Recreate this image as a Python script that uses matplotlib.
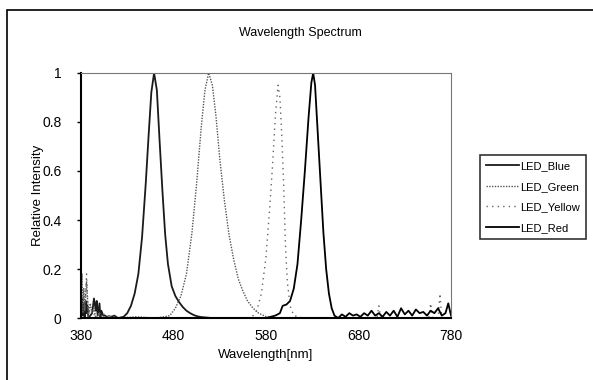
import matplotlib.pyplot as plt
from matplotlib.patches import Rectangle

plt.rcParams['font.family'] = ['Liberation Sans', 'DejaVu Sans']

# --- data (wavelength in nm, relative intensity) ---
blue_wl = [380, 381, 382, 383, 384, 385, 386, 387, 388, 390, 392, 394, 396, 397, 398, 400,
           401, 402, 404, 406, 410, 416, 420, 426, 430, 434, 438, 442, 446, 450, 453, 456,
           459, 462, 465, 468, 471, 474, 478, 482, 486, 490, 494, 498, 502, 506, 510, 516,
           522, 540, 600, 780]
blue_val = [0.02, 0.08, 0.01, 0.06, 0.0, 0.07, 0.02, 0.05, 0.0, 0.01, 0.02, 0.08, 0.03, 0.07,
            0.01, 0.06, 0.0, 0.03, 0.01, 0.01, 0.0, 0.01, 0.0, 0.005, 0.02, 0.05, 0.10, 0.18,
            0.33, 0.55, 0.74, 0.92, 1.0, 0.93, 0.72, 0.52, 0.34, 0.22, 0.13, 0.09, 0.065, 0.045,
            0.03, 0.02, 0.012, 0.007, 0.004, 0.002, 0.0, 0.0, 0.0, 0.0]

green_wl = [380, 381, 382, 383, 384, 386, 388, 390, 392, 394, 396, 400, 405, 410, 420, 440,
            460, 470, 476, 482, 488, 494, 500, 505, 510, 514, 518, 522, 526, 530, 535, 540,
            545, 550, 555, 560, 566, 572, 580, 590, 600, 700, 780]
green_val = [0.05, 0.18, 0.02, 0.12, 0.03, 0.15, 0.01, 0.06, 0.02, 0.04, 0.0, 0.02, 0.0, 0.01,
             0.0, 0.005, 0.0, 0.005, 0.01, 0.04, 0.09, 0.18, 0.35, 0.55, 0.78, 0.93, 1.0,
             0.95, 0.82, 0.65, 0.48, 0.34, 0.24, 0.16, 0.11, 0.07, 0.04, 0.02, 0.006, 0.0,
             0.0, 0.0, 0.0]

yellow_wl = [380, 382, 384, 386, 388, 390, 395, 400, 420, 500, 560, 566, 570, 575, 580, 584,
             587, 590, 593, 595, 597, 599, 601, 603, 606, 610, 620, 680, 700, 702, 704, 740,
             756, 758, 760, 766, 768, 770, 772, 780]
yellow_val = [0.02, 0.12, 0.03, 0.18, 0.0, 0.04, 0.01, 0.02, 0.0, 0.0, 0.0, 0.01, 0.03, 0.10,
              0.25, 0.45, 0.62, 0.82, 0.95, 0.90, 0.75, 0.55, 0.30, 0.15, 0.05, 0.01, 0.0,
              0.0, 0.0, 0.05, 0.0, 0.0, 0.0, 0.06, 0.0, 0.0, 0.1, 0.0, 0.0, 0.0]

red_wl = [380, 420, 480, 560, 580, 585, 590, 595, 598, 602, 606, 610, 614, 618, 622, 626,
          629, 631, 633, 636, 639, 642, 645, 648, 651, 654, 658, 662, 666, 670, 674, 678,
          682, 686, 690, 694, 698, 702, 706, 710, 714, 718, 722, 726, 730, 734, 738, 742,
          746, 750, 754, 758, 762, 766, 770, 774, 777, 780]
red_val = [0.0, 0.0, 0.0, 0.0, 0.0, 0.005, 0.01, 0.02, 0.05, 0.055, 0.07, 0.12, 0.22, 0.40,
           0.60, 0.82, 0.96, 1.0, 0.95, 0.75, 0.55, 0.35, 0.20, 0.10, 0.04, 0.01, 0.0,
           0.015, 0.005, 0.02, 0.01, 0.015, 0.005, 0.02, 0.01, 0.03, 0.01, 0.02, 0.005,
           0.025, 0.01, 0.03, 0.005, 0.04, 0.015, 0.03, 0.01, 0.035, 0.02, 0.025, 0.01,
           0.03, 0.02, 0.04, 0.01, 0.02, 0.06, 0.01]

x_ticks = [380, 480, 580, 680, 780]
y_ticks = [0, 0.2, 0.4, 0.6, 0.8, 1]
y_tick_labels = ['0', '0.2', '0.4', '0.6', '0.8', '1']

fig = plt.figure(figsize=(5.93, 3.80), dpi=100)
ax = fig.add_axes([0.1366, 0.163, 0.624, 0.645])

ax.plot(blue_wl, blue_val, color='#1a1a1a', lw=1.3, label='LED_Blue')
ax.plot(green_wl, green_val, color='#555555', lw=1.0, ls=(0, (1, 1)), label='LED_Green')
ax.plot(yellow_wl, yellow_val, color='#666666', lw=1.0, ls=(0, (1, 3)), label='LED_Yellow')
ax.plot(red_wl, red_val, color='#000000', lw=1.3, label='LED_Red')

ax.set_xlim(380, 780)
ax.set_ylim(0, 1)
ax.set_xticks(x_ticks)
ax.set_yticks(y_ticks)
ax.set_yticklabels(y_tick_labels)
ax.tick_params(labelsize=10, length=3, width=1, direction='out')
ax.tick_params(axis='y', pad=11)
ax.tick_params(axis='x', length=0, pad=8)

for side in ['left', 'bottom']:
    ax.spines[side].set_linewidth(1.5)
for side in ['top', 'right']:
    ax.spines[side].set_color('#777777')
    ax.spines[side].set_linestyle((0, (1, 1)))
    ax.spines[side].set_linewidth(0.8)

fig.text(0.506, 1 - 33 / 380, 'Wavelength Spectrum', fontsize=9, ha='center', va='center')
ax.set_xlabel('Wavelength[nm]', fontsize=9.5, labelpad=4)
ax.set_ylabel('Relative Intensity', fontsize=9.5, labelpad=-1)

leg = ax.legend(loc='upper left', bbox_to_anchor=(0.809, 0.592), bbox_transform=fig.transFigure,
                fontsize=8, frameon=True, fancybox=False, handlelength=3.0, handletextpad=0.1,
                labelspacing=0.95, borderpad=0.55, borderaxespad=0)
leg.get_frame().set_edgecolor('black')
leg.get_frame().set_linewidth(1.2)

# outer chart border, cut by the picture edges
fig.patches.append(Rectangle((0.011, -0.1), 1.2, 1.074, transform=fig.transFigure,
                             fill=False, edgecolor='black', lw=1.2))

fig.savefig('out.png', dpi=100)
